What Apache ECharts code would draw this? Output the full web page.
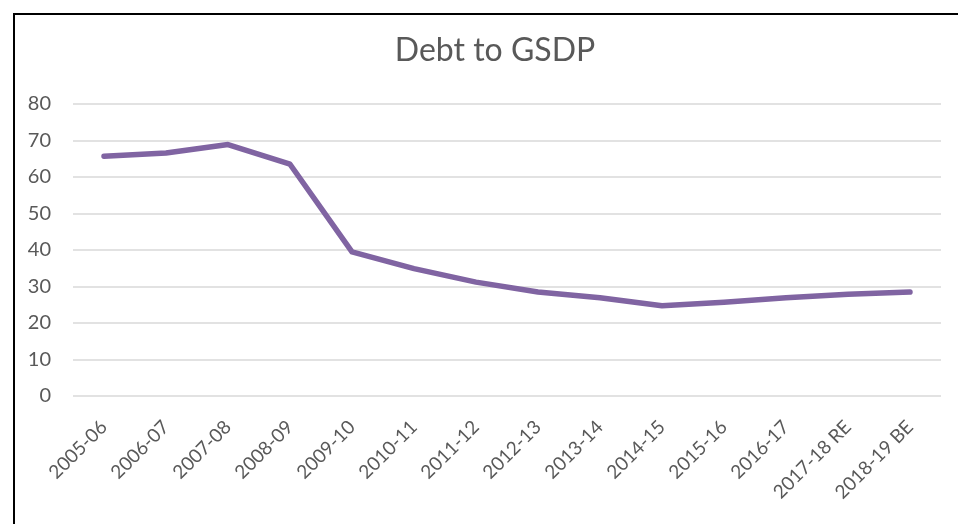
<!DOCTYPE html>
<html>
<head>
<meta charset="utf-8">
<script src="https://cdn.jsdelivr.net/npm/echarts@6/dist/echarts.min.js"></script>
<style>
  html, body { margin: 0; padding: 0; background: #fff; }
  #frame { position: absolute; left: 13px; top: 13px; width: 960px; height: 530px;
           border: 2px solid #000; box-sizing: border-box; }
  #chart { position: absolute; left: 0; top: 0; width: 958px; height: 524px; }
</style>
</head>
<body>
<div id="frame"></div>
<div id="chart"></div>
<script>
// Debt as a share of GSDP, by fiscal year
const years = ['2005-06', '2006-07', '2007-08', '2008-09', '2009-10', '2010-11', '2011-12',
               '2012-13', '2013-14', '2014-15', '2015-16', '2016-17', '2017-18 RE', '2018-19 BE'];
const debtToGsdp = [65.7, 66.6, 68.9, 63.5, 39.5, 34.9, 31.2, 28.5, 26.9, 24.7, 25.7, 26.9, 27.9, 28.5];
const yTicks = { min: 0, max: 80, step: 10 };

const font = 'Lato, "Open Sans", sans-serif';
const chart = echarts.init(document.getElementById('chart'));
chart.setOption({
  animation: false,
  title: {
    text: 'Debt to GSDP',
    left: 490, top: 30, textAlign: 'center',
    textStyle: { fontFamily: font, fontSize: 32, fontWeight: 'normal', color: '#595959' }
  },
  grid: { left: 73, right: 17, top: 104, bottom: 128 },
  xAxis: {
    type: 'category',
    data: years,
    boundaryGap: true,
    axisLine: { show: false },
    axisTick: { show: false },
    axisLabel: { rotate: 45, interval: 0, margin: 28, color: '#595959',
                 fontFamily: font, fontSize: 19 }
  },
  yAxis: {
    type: 'value',
    min: yTicks.min, max: yTicks.max, interval: yTicks.step,
    axisLine: { show: false },
    axisTick: { show: false },
    axisLabel: { color: '#595959', fontFamily: font, fontSize: 20, margin: 22 },
    splitLine: { lineStyle: { color: '#d9d9d9', width: 1.5 } }
  },
  series: [{
    type: 'line',
    data: debtToGsdp,
    symbol: 'none',
    lineStyle: { color: '#8064a2', width: 5.5, cap: 'round', join: 'round' }
  }]
});
</script>
</body>
</html>
